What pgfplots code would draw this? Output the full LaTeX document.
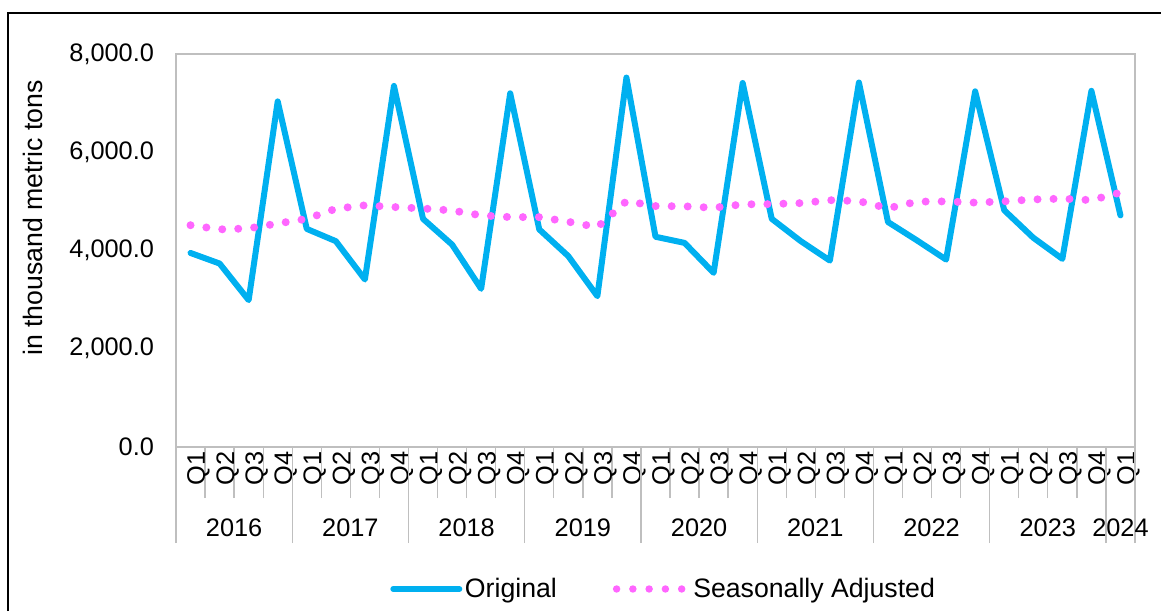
\documentclass[border=0pt]{standalone}
\usepackage{pgfplots}
\pgfplotsset{compat=1.18}
\usepackage{fontspec}
\setmainfont{Liberation Sans}
\definecolor{origblue}{HTML}{00B0F0}
\definecolor{sapink}{HTML}{FF66FF}
\definecolor{axgray}{HTML}{BFBFBF}

\pgfplotstableread{
x orig sa
0 3950 4515
1 3735 4430
2 2990 4450
3 7035 4550
4 4440 4645
5 4190 4850
6 3410 4920
7 7350 4885
8 4645 4855
9 4120 4815
10 3220 4715
11 7200 4680
12 4430 4680
13 3885 4585
14 3070 4475
15 7520 5005
16 4280 4905
17 4155 4900
18 3545 4870
19 7410 4940
20 4645 4945
21 4190 4965
22 3795 5025
23 7420 5005
24 4580 4860
25 4205 4995
26 3815 5000
27 7240 4975
28 4820 5000
29 4260 5040
30 3830 5055
31 7250 5025
32 4715 5180
}\datatable

\begin{document}
\begin{tikzpicture}
\useasboundingbox (0,0) rectangle (870.75pt,458.25pt);
\draw[black, line width=1.3pt] (6pt,0pt) -- (6pt,448.5pt) -- (870.75pt,448.5pt);
\begin{axis}[
  at={(132pt,123pt)}, anchor=south west,
  scale only axis, width=719.25pt, height=294.75pt,
  xmin=-0.5, xmax=32.5, ymin=0, ymax=8000,
  clip=false,
  axis line style={axgray, line width=1pt},
  ytick={0,2000,4000,6000,8000},
  scaled y ticks=false,
  xtick pos=bottom, ytick pos=left,
  xtick={0,...,32},
  xticklabels={Q1,Q2,Q3,Q4,Q1,Q2,Q3,Q4,Q1,Q2,Q3,Q4,Q1,Q2,Q3,Q4,Q1,Q2,Q3,Q4,Q1,Q2,Q3,Q4,Q1,Q2,Q3,Q4,Q1,Q2,Q3,Q4,Q1},
  major tick length=0pt,
  tick align=outside,
  minor xtick={-0.5,0.5,...,32.5},
  minor tick length=38.25pt,
  minor tick style={axgray, line width=1pt},
  extra x ticks={-0.5,3.5,7.5,11.5,15.5,19.5,23.5,27.5,31.5,32.5},
  extra x tick labels={},
  extra x tick style={major tick length=72pt, tick align=outside, xtick pos=bottom, major tick style={axgray, line width=1pt}},
  tick label style={font=\fontsize{19}{22}\selectfont},
  yticklabel style={/pgf/number format/fixed, /pgf/number format/fixed zerofill, /pgf/number format/precision=1, /pgf/number format/1000 sep={,}, /pgf/number format/assume math mode=true, xshift=-13pt},
  xticklabel style={rotate=90, anchor=east, yshift=-6pt},
  ylabel={in thousand metric tons},
  every axis y label/.style={at={(axis description cs:-0.149,0.583)}, rotate=90, anchor=center, font=\fontsize{20}{23}\selectfont},
  legend style={at={(axis description cs:0.2232,-0.3613)}, anchor=west, draw=none, fill=none, legend columns=2, font=\fontsize{20}{23}\selectfont, /tikz/every even column/.append style={column sep=40pt}, inner sep=0pt},
  legend cell align=left,
]
\addplot[origblue, line width=4.5pt, line join=round, line cap=round, mark=none,
  legend image code/.code={\draw[origblue, line width=4.5pt, line cap=round] (0pt,0pt) -- (49.5pt,0pt);}] table[x=x, y=orig] {\datatable};
\addlegendentry{Original}
\addplot[sapink, line width=6pt, line cap=round, dash pattern=on 0pt off 12pt, mark=none,
  legend image code/.code={\draw[sapink, line width=5.6pt, line cap=round, dash pattern=on 0pt off 12.2pt] (0pt,0pt) -- (48.9pt,0pt); \path (52.5pt,0pt);}] table[x=x, y=sa] {\datatable};
\addlegendentry{Seasonally Adjusted}
\foreach \yr/\pos in {2016/1.5,2017/5.5,2018/9.5,2019/13.5,2020/17.5,2021/21.5,2022/25.5,2023/29.5,2024/32} {
  \edef\temp{\noexpand\node[font=\noexpand\fontsize{19}{22}\noexpand\selectfont] at (axis cs:\pos,0) [yshift=-60.75pt] {\yr};}
  \temp
}
\end{axis}
\end{tikzpicture}
\end{document}
